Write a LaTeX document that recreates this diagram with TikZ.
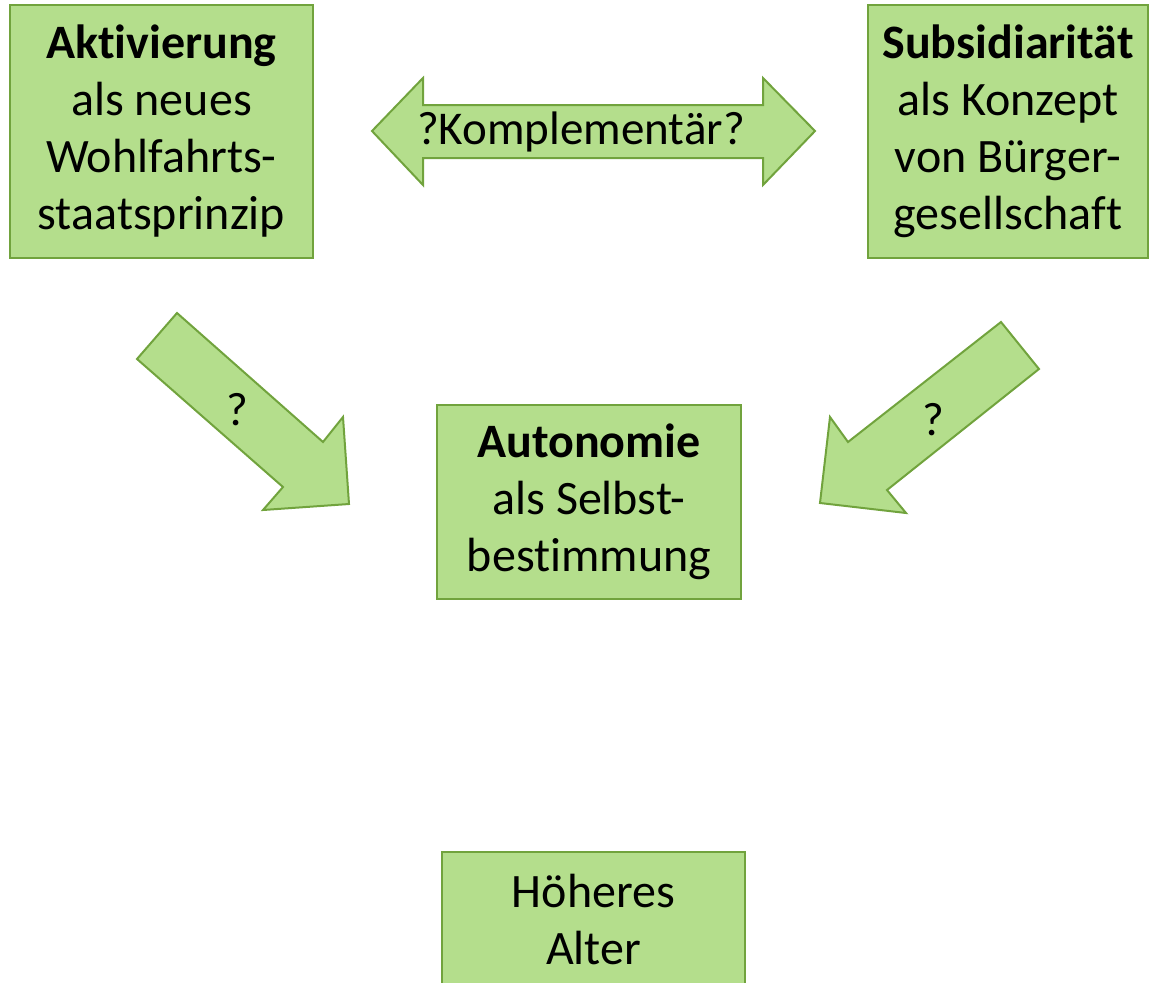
\documentclass[tikz,border=0pt]{standalone}
\usepackage{fontspec}
\setmainfont[Ligatures=NoCommon]{Carlito}
\usetikzlibrary{positioning}
\definecolor{BoxFill}{HTML}{B4DE8C}
\definecolor{BoxLine}{HTML}{71A33D}

\begin{document}
\begin{tikzpicture}[x=0.5pt, y=-0.5pt,
        box/.style={draw=BoxLine, fill=BoxFill, line width=1pt, inner sep=0pt,
                    align=center, font=\fontsize{24}{28.5}\selectfont},
        blk/.style={draw=BoxLine, fill=BoxFill, line width=1pt, line join=miter},
        lbl/.style={inner sep=0pt, font=\fontsize{23.5}{28.5}\selectfont},
      ]
      \useasboundingbox (0,0) rectangle (1153,982);
      % boxes
      \node[box, minimum width=151.5pt, minimum height=126.5pt] (akt) at (161.5,131.5)
        {\textbf{Aktivierung}\\als neues\\Wohlfahrts-\\staatsprinzip};
      \node[box, minimum width=140pt, minimum height=126.5pt] (sub) at (1008,131.5)
        {\textbf{Subsidiarität}\\als Konzept\\von Bürger-\\gesellschaft};
      \node[box, minimum width=152pt, minimum height=97pt] (aut) at (589,502)
        {\textbf{Autonomie}\\als Selbst-\\bestimmung};
      \node[box, minimum width=151.5pt, minimum height=67pt, anchor=north] (alt) at (593.5,851)
        {Höheres\\Alter};
      % block arrows
      \draw[blk] (372,131) -- (423,78) -- (423,105) -- (763,105) -- (763,78) -- (815,131)
        -- (763,185) -- (763,158) -- (423,158) -- (423,185) -- cycle;
      \node[lbl] (komp) at (581,132) {?Komplementär?};
      \draw[blk] (177,313) -- (323,442) -- (343,417) -- (349,504) -- (263,510)
        -- (283,487) -- (137,359) -- cycle;
      \node[lbl] (qakt) at (237,410) {?};
      \draw[blk] (1001,322) -- (1039,369) -- (887,490) -- (906,513) -- (820,503)
        -- (830,417) -- (848,442) -- cycle;
      \node[lbl] (qsub) at (933,420) {?};
    \end{tikzpicture}
\end{document}
